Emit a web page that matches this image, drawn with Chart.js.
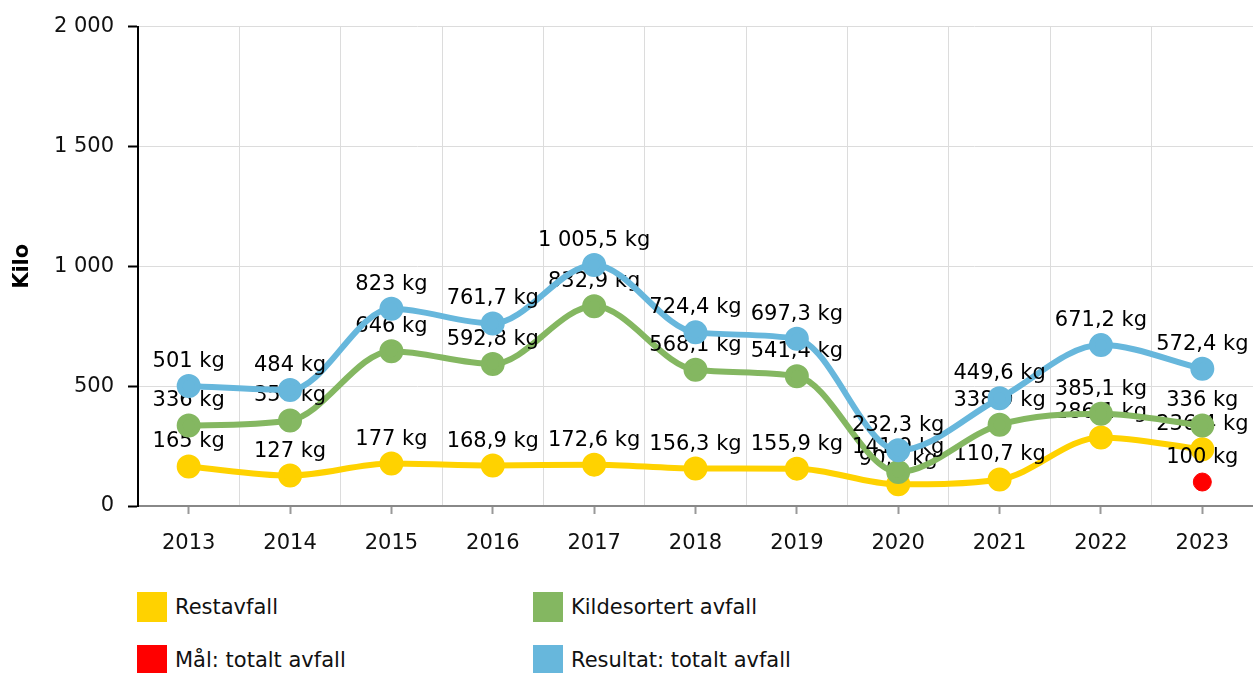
<!DOCTYPE html>
<html>
<head>
<meta charset="utf-8">
<script src="https://cdn.jsdelivr.net/npm/chart.js@4.4.1/dist/chart.umd.min.js"></script>
<style>
  html, body { margin: 0; padding: 0; background: #fff; overflow: hidden; }
  #wrap { position: relative; width: 1253px; height: 673px; font-family: "DejaVu Sans", Verdana, sans-serif; }
  #avfallChart { position: absolute; left: 0; top: 0; }
  .leg { position: absolute; display: flex; align-items: center; font-size: 21px; color: #111; white-space: nowrap; }
  .leg span.box { display: inline-block; width: 30px; height: 30px; margin-right: 8px; }
</style>
</head>
<body>
<div id="wrap">
  <canvas id="avfallChart" width="1253" height="572"></canvas>
  <div id="legend"></div>
</div>
<script>
// ================= DATA =================
const years = ["2013", "2014", "2015", "2016", "2017", "2018", "2019", "2020", "2021", "2022", "2023"];
const restavfall = [165, 127, 177, 168.9, 172.6, 156.3, 155.9, 90.4, 110.7, 286.1, 236.4];
const kildesortert = [336, 357, 646, 592.8, 832.9, 568.1, 541.4, 141.9, 338.9, 385.1, 336];
const maal = [null, null, null, null, null, null, null, null, null, null, 100];
const resultat = [501, 484, 823, 761.7, 1005.5, 724.4, 697.3, 232.3, 449.6, 671.2, 572.4];
const yTicks = [0, 500, 1000, 1500, 2000];

const FONT = "'DejaVu Sans', Verdana, sans-serif";

// norsk tallformat: 1 005,5
function fmt(v) {
  const parts = (Number.isInteger(v) ? String(v) : v.toFixed(1)).split(".");
  parts[0] = parts[0].replace(/\B(?=(\d{3})+(?!\d))/g, " ");
  return parts.join(",");
}

// label "xxx kg" over hvert punkt, tegnet rett etter sitt datasett
const pointLabels = {
  id: "pointLabels",
  afterDatasetDraw(chart, args) {
    const ds = chart.data.datasets[args.index];
    const c = chart.ctx;
    c.save();
    c.font = "21px " + FONT;
    c.fillStyle = "#000";
    c.textAlign = "center";
    c.textBaseline = "alphabetic";
    args.meta.data.forEach((pt, i) => {
      const v = ds.data[i];
      if (v === null || v === undefined) return;
      c.fillText(fmt(v) + " kg", pt.x, pt.y - 19);
    });
    c.restore();
  }
};

const ctx = document.getElementById("avfallChart").getContext("2d");

window.avfallChart = new Chart(ctx, {
  type: "line",
  data: {
    labels: years,
    datasets: [
      {
        label: "Restavfall",
        data: restavfall,
        borderColor: "rgb(255,210,0)",
        backgroundColor: "rgb(255,210,0)",
        borderWidth: 6,
        pointRadius: 9,
        cubicInterpolationMode: "monotone",
        order: 4
      },
      {
        label: "Kildesortert avfall",
        data: kildesortert,
        borderColor: "rgb(132,183,97)",
        backgroundColor: "rgb(132,183,97)",
        borderWidth: 6,
        pointRadius: 9,
        cubicInterpolationMode: "monotone",
        order: 3
      },
      {
        label: "Mål: totalt avfall",
        data: maal,
        borderColor: "rgb(255,0,0)",
        backgroundColor: "rgb(255,0,0)",
        showLine: false,
        pointRadius: 9,
        order: 2
      },
      {
        label: "Resultat: totalt avfall",
        data: resultat,
        borderColor: "rgb(103,183,220)",
        backgroundColor: "rgb(103,183,220)",
        borderWidth: 6,
        pointRadius: 9,
        cubicInterpolationMode: "monotone",
        order: 1
      }
    ]
  },
  options: {
    responsive: false,
    animation: false,
    events: [],
    layout: { autoPadding: false, padding: { top: 23, right: 0, left: 0, bottom: 0 } },
    plugins: {
      legend: { display: false },
      tooltip: { enabled: false }
    },
    scales: {
      x: {
        offset: true,
        grid: {
          drawOnChartArea: false,
          tickLength: 8,
          tickColor: "#999",
          tickWidth: 2
        },
        border: { color: "#888", width: 2 },
        ticks: {
          color: "#111",
          padding: 17,
          font: { family: FONT, size: 21 }
        },
        afterFit: s => { s.height = 66; s.paddingLeft = 0; s.paddingRight = 0; }
      },
      x2: {
        type: "category",
        position: "bottom",
        labels: years,
        offset: true,
        grid: { offset: true, color: "#dcdcdc", lineWidth: 1, drawTicks: false },
        border: { display: false },
        ticks: { display: false },
        afterFit: s => { s.height = 0; s.paddingLeft = 0; s.paddingRight = 0; }
      },
      y: {
        min: 0,
        max: 2000,
        afterBuildTicks: s => { s.ticks = yTicks.map(v => ({ value: v })); },
        grid: {
          color: "#dcdcdc",
          tickLength: 10,
          tickColor: "#000",
          tickWidth: 2
        },
        border: { color: "#000", width: 2 },
        ticks: {
          color: "#111",
          padding: 14,
          font: { family: FONT, size: 21 },
          callback: v => fmt(v)
        },
        title: {
          display: true,
          text: "Kilo",
          color: "#000",
          padding: { top: 10, bottom: 0 },
          font: { family: FONT, size: 21, weight: "bold" }
        },
        afterFit: s => { s.width = 138; }
      }
    }
  },
  plugins: [pointLabels]
});

// legende i to kolonner, bygget fra datasettene
const legendPos = [
  { left: 137, top: 592 },
  { left: 533, top: 592 },
  { left: 137, top: 645 },
  { left: 533, top: 645 }
];
const legendEl = document.getElementById("legend");
window.avfallChart.data.datasets.forEach((ds, i) => {
  const item = document.createElement("div");
  item.className = "leg";
  item.style.left = legendPos[i].left + "px";
  item.style.top = legendPos[i].top + "px";
  item.innerHTML = '<span class="box" style="background:' + ds.backgroundColor + '"></span>' + ds.label;
  legendEl.appendChild(item);
});
</script>
</body>
</html>
